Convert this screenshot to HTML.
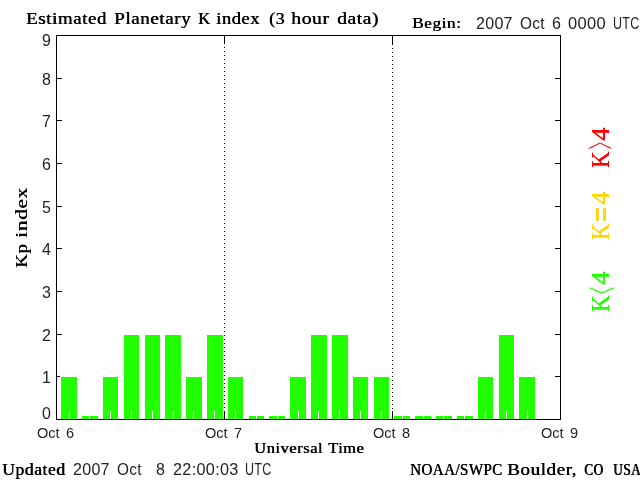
<!DOCTYPE html>
<html><head><meta charset="utf-8"><title>Estimated Planetary K index</title>
<style>
html,body{margin:0;padding:0;background:#fff;}
body{width:640px;height:480px;position:relative;overflow:hidden;font-family:"Liberation Sans",sans-serif;color:#000;}
.a{position:absolute;white-space:pre;line-height:1;transform-origin:0 0;}
.s{font-family:"Liberation Serif",serif;font-weight:normal;text-shadow:0.55px 0 0 #000;}
.sr{font-family:"Liberation Serif",serif;font-weight:normal;}
.n{font-family:"Liberation Sans",sans-serif;color:#222;}
.b{position:absolute;background:#22ff00;}
.k{position:absolute;background:#000;}
.w{position:absolute;background:#fff;width:1px;height:8px;top:411px;}
.d{position:absolute;width:1px;background:repeating-linear-gradient(to bottom,#000 0,#000 1px,transparent 1px,transparent 4px);}
.r{position:absolute;white-space:pre;line-height:1;transform-origin:0 0;transform:rotate(-90deg);}
</style></head><body>
<div id="plot" style="position:absolute;left:0;top:0;width:640px;height:480px;will-change:transform">

<div class="b" style="left:61px;top:377px;width:16px;height:42px"></div>
<div class="w" style="left:69px"></div>
<div class="b" style="left:82px;top:416px;width:16px;height:3px"></div>
<div class="w" style="left:89px"></div>
<div class="b" style="left:103px;top:377px;width:15px;height:42px"></div>
<div class="w" style="left:110px"></div>
<div class="b" style="left:124px;top:335px;width:15px;height:84px"></div>
<div class="w" style="left:131px"></div>
<div class="b" style="left:145px;top:335px;width:15px;height:84px"></div>
<div class="w" style="left:152px"></div>
<div class="b" style="left:165px;top:335px;width:16px;height:84px"></div>
<div class="w" style="left:173px"></div>
<div class="b" style="left:186px;top:377px;width:16px;height:42px"></div>
<div class="w" style="left:193px"></div>
<div class="b" style="left:207px;top:335px;width:16px;height:84px"></div>
<div class="w" style="left:214px"></div>
<div class="b" style="left:228px;top:377px;width:15px;height:42px"></div>
<div class="w" style="left:235px"></div>
<div class="b" style="left:249px;top:416px;width:15px;height:3px"></div>
<div class="w" style="left:256px"></div>
<div class="b" style="left:269px;top:416px;width:16px;height:3px"></div>
<div class="w" style="left:277px"></div>
<div class="b" style="left:290px;top:377px;width:16px;height:42px"></div>
<div class="w" style="left:298px"></div>
<div class="b" style="left:311px;top:335px;width:16px;height:84px"></div>
<div class="w" style="left:318px"></div>
<div class="b" style="left:332px;top:335px;width:16px;height:84px"></div>
<div class="w" style="left:339px"></div>
<div class="b" style="left:353px;top:377px;width:15px;height:42px"></div>
<div class="w" style="left:360px"></div>
<div class="b" style="left:374px;top:377px;width:15px;height:42px"></div>
<div class="w" style="left:381px"></div>
<div class="b" style="left:394px;top:416px;width:16px;height:3px"></div>
<div class="w" style="left:402px"></div>
<div class="b" style="left:415px;top:416px;width:16px;height:3px"></div>
<div class="w" style="left:423px"></div>
<div class="b" style="left:436px;top:416px;width:16px;height:3px"></div>
<div class="w" style="left:443px"></div>
<div class="b" style="left:457px;top:416px;width:16px;height:3px"></div>
<div class="w" style="left:464px"></div>
<div class="b" style="left:478px;top:377px;width:15px;height:42px"></div>
<div class="w" style="left:485px"></div>
<div class="b" style="left:499px;top:335px;width:15px;height:84px"></div>
<div class="w" style="left:506px"></div>
<div class="b" style="left:519px;top:377px;width:16px;height:42px"></div>
<div class="w" style="left:527px"></div>
<div class="d" style="left:224px;top:47px;height:361px"></div>
<div class="k" style="left:224px;top:411px;width:1px;height:8px"></div>
<div class="k" style="left:224px;top:36px;width:1px;height:8px"></div>
<div class="d" style="left:392px;top:44px;height:365px"></div>
<div class="k" style="left:392px;top:411px;width:1px;height:8px"></div>
<div class="k" style="left:392px;top:36px;width:1px;height:8px"></div>
<div class="k" style="left:56px;top:35px;width:505px;height:1px"></div>
<div class="k" style="left:56px;top:419px;width:505px;height:1px"></div>
<div class="k" style="left:56px;top:35px;width:1px;height:385px"></div>
<div class="k" style="left:560px;top:35px;width:1px;height:385px"></div>
<div class="k" style="left:56px;top:376px;width:4px;height:1px"></div>
<div class="k" style="left:555px;top:376px;width:6px;height:1px"></div>
<div class="k" style="left:56px;top:334px;width:6px;height:1px"></div>
<div class="k" style="left:555px;top:334px;width:6px;height:1px"></div>
<div class="k" style="left:56px;top:291px;width:6px;height:1px"></div>
<div class="k" style="left:555px;top:291px;width:6px;height:1px"></div>
<div class="k" style="left:56px;top:248px;width:6px;height:1px"></div>
<div class="k" style="left:555px;top:248px;width:6px;height:1px"></div>
<div class="k" style="left:56px;top:206px;width:6px;height:1px"></div>
<div class="k" style="left:555px;top:206px;width:6px;height:1px"></div>
<div class="k" style="left:56px;top:163px;width:6px;height:1px"></div>
<div class="k" style="left:555px;top:163px;width:6px;height:1px"></div>
<div class="k" style="left:56px;top:120px;width:6px;height:1px"></div>
<div class="k" style="left:555px;top:120px;width:6px;height:1px"></div>
<div class="k" style="left:56px;top:78px;width:6px;height:1px"></div>
<div class="k" style="left:555px;top:78px;width:6px;height:1px"></div>
<span class="a s" style="left:26px;top:11px;font-size:16.5px;letter-spacing:0.5px;transform:scaleX(1.145);text-shadow:0.48px 0 0 #000;">Estimated</span>
<span class="a s" style="left:114px;top:11px;font-size:16.5px;letter-spacing:0.5px;transform:scaleX(1.152);text-shadow:0.48px 0 0 #000;">Planetary</span>
<span class="a s" style="left:198px;top:11px;font-size:16.5px;">K</span>
<span class="a s" style="left:216px;top:11px;font-size:16.5px;letter-spacing:0.5px;transform:scaleX(1.121);text-shadow:0.49px 0 0 #000;">index</span>
<span class="a s" style="left:269px;top:11px;font-size:16.5px;letter-spacing:0.5px;transform:scaleX(1.077);text-shadow:0.51px 0 0 #000;">(3</span>
<span class="a s" style="left:291px;top:11px;font-size:16.5px;letter-spacing:0.5px;transform:scaleX(1.188);text-shadow:0.46px 0 0 #000;">hour</span>
<span class="a s" style="left:337px;top:11px;font-size:16.5px;letter-spacing:0.5px;transform:scaleX(1.176);text-shadow:0.47px 0 0 #000;">data)</span>
<span class="a s" style="left:412px;top:16px;font-size:15px;letter-spacing:0.5px;transform:scaleX(1.146);text-shadow:0.48px 0 0 #000;">Begin:</span>
<span class="a n" style="left:476px;top:16px;font-size:16px;letter-spacing:0.3px;">2007</span>
<span class="a n" style="left:520px;top:16px;font-size:16px;letter-spacing:0.3px;transform:scaleX(0.958);">Oct</span>
<span class="a n" style="left:552px;top:16px;font-size:16px;">6</span>
<span class="a n" style="left:568px;top:16px;font-size:16px;letter-spacing:0.3px;transform:scaleX(1.029);">0000</span>
<span class="a n" style="left:613px;top:16px;font-size:16px;letter-spacing:0.3px;transform:scaleX(0.781);">UTC</span>
<span class="a s" style="left:254px;top:441px;font-size:15px;letter-spacing:0.5px;transform:scaleX(1.097);text-shadow:0.50px 0 0 #000;">Universal</span>
<span class="a s" style="left:328px;top:441px;font-size:15px;letter-spacing:0.5px;transform:scaleX(1.091);text-shadow:0.50px 0 0 #000;">Time</span>
<span class="a s" style="left:2px;top:462px;font-size:16.5px;letter-spacing:0.5px;transform:scaleX(1.068);text-shadow:0.51px 0 0 #000;">Updated</span>
<span class="a n" style="left:73px;top:462px;font-size:16px;letter-spacing:0.3px;">2007</span>
<span class="a n" style="left:117px;top:462px;font-size:16px;letter-spacing:0.3px;transform:scaleX(0.958);">Oct</span>
<span class="a n" style="left:156px;top:462px;font-size:16px;">8</span>
<span class="a n" style="left:173px;top:462px;font-size:16px;letter-spacing:0.3px;transform:scaleX(1.016);">22:00:03</span>
<span class="a n" style="left:245px;top:462px;font-size:16px;letter-spacing:0.3px;transform:scaleX(0.781);">UTC</span>
<span class="a s" style="left:410px;top:462px;font-size:16.5px;letter-spacing:0.5px;transform:scaleX(0.91);text-shadow:0.55px 0 0 #000;">NOAA/SWPC</span>
<span class="a s" style="left:507px;top:462px;font-size:16.5px;letter-spacing:0.5px;transform:scaleX(1.153);text-shadow:0.48px 0 0 #000;">Boulder,</span>
<span class="a s" style="left:584px;top:462px;font-size:16.5px;letter-spacing:0.5px;transform:scaleX(0.805);text-shadow:1.06px 0 0 #000;">CO</span>
<span class="a s" style="left:613px;top:462px;font-size:16.5px;letter-spacing:0.5px;transform:scaleX(0.804);text-shadow:1.06px 0 0 #000;">USA</span>
<span class="a n" style="left:37px;top:426px;font-size:14.5px;">Oct</span>
<span class="a n" style="left:66px;top:426px;font-size:14.5px;">6</span>
<span class="a n" style="left:205px;top:426px;font-size:14.5px;">Oct</span>
<span class="a n" style="left:234px;top:426px;font-size:14.5px;">7</span>
<span class="a n" style="left:373px;top:426px;font-size:14.5px;">Oct</span>
<span class="a n" style="left:402px;top:426px;font-size:14.5px;">8</span>
<span class="a n" style="left:541px;top:426px;font-size:14.5px;">Oct</span>
<span class="a n" style="left:570px;top:426px;font-size:14.5px;">9</span>
<span class="a n" style="left:42px;top:406px;font-size:16px;">0</span>
<span class="a n" style="left:42px;top:370px;font-size:16px;">1</span>
<span class="a n" style="left:42px;top:328px;font-size:16px;">2</span>
<span class="a n" style="left:42px;top:285px;font-size:16px;">3</span>
<span class="a n" style="left:42px;top:242px;font-size:16px;">4</span>
<span class="a n" style="left:42px;top:200px;font-size:16px;">5</span>
<span class="a n" style="left:42px;top:157px;font-size:16px;">6</span>
<span class="a n" style="left:42px;top:114px;font-size:16px;">7</span>
<span class="a n" style="left:42px;top:72px;font-size:16px;">8</span>
<span class="a n" style="left:42px;top:33px;font-size:16px;">9</span>
<div class="r" style="left:580px;top:167px;width:60px;height:40px;color:#ff0000"><span class="a sr" style="left:-0.94px;top:8.50px;font-size:24.5px;transform:scale(0.938,1.000);text-shadow:0.35px 0 0 currentColor;">K</span><span class="a sr" style="left:17.50px;top:-3.80px;font-size:24.5px;transform:scale(0.500,2.067);">&gt;</span><span class="a sr" style="left:26.00px;top:8.50px;font-size:24.5px;transform:scale(1.083,1.000);text-shadow:0.35px 0 0 currentColor;">4</span></div>
<div class="r" style="left:580px;top:239px;width:60px;height:40px;color:#ffd700"><span class="a sr" style="left:-0.94px;top:8.50px;font-size:24.5px;transform:scale(0.938,1.000);text-shadow:0.35px 0 0 currentColor;">K</span><span class="a sr" style="left:16.92px;top:4.07px;font-size:24.5px;transform:scale(1.083,1.467);text-shadow:0 0.7px 0 currentColor;">=</span><span class="a sr" style="left:34.00px;top:8.50px;font-size:24.5px;transform:scale(1.083,1.000);text-shadow:0.35px 0 0 currentColor;">4</span></div>
<div class="r" style="left:580px;top:311px;width:60px;height:40px;color:#22ff00"><span class="a sr" style="left:-0.94px;top:8.50px;font-size:24.5px;transform:scale(0.938,1.000);text-shadow:0.35px 0 0 currentColor;">K</span><span class="a sr" style="left:16.50px;top:-5.13px;font-size:24.5px;transform:scale(0.500,2.255);">&lt;</span><span class="a sr" style="left:26.00px;top:8.50px;font-size:24.5px;transform:scale(1.083,1.000);text-shadow:0.35px 0 0 currentColor;">4</span></div>
<div class="r" style="left:-4px;top:267px;width:90px;height:40px"><span class="a s" style="left:-1px;top:18px;font-size:16.5px;letter-spacing:0.5px;transform:scaleX(1.15);text-shadow:0.48px 0 0 #000;">Kp</span><span class="a s" style="left:29px;top:18px;font-size:16.5px;letter-spacing:0.5px;transform:scaleX(1.293);text-shadow:0.43px 0 0 #000;">index</span></div>
</div>
</body></html>
